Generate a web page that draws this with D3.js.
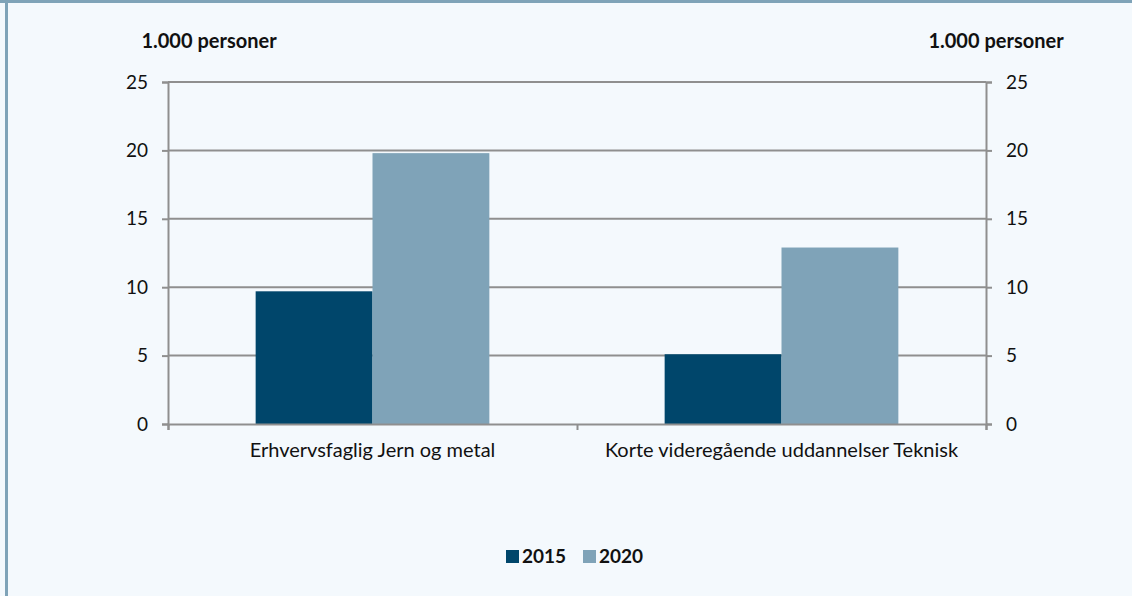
<!DOCTYPE html>
<html>
<head>
<meta charset="utf-8">
<script src="https://cdn.jsdelivr.net/npm/d3@7"></script>
<style>
  body { margin: 0; background: #f4f9fd; }
  svg { display: block; font-family: Lato, "Open Sans", sans-serif; }
  .tick text { fill: #111; font-size: 19px; font-family: Lato, "Open Sans", sans-serif; }
</style>
</head>
<body>
<div id="chart"></div>
<script>
// categories and series
var categories = ['Erhvervsfaglig Jern og metal', 'Korte videregående uddannelser Teknisk'];
var years = ['2015', '2020'];
var values2015 = [9.7, 5.1];
var values2020 = [19.8, 12.9];
var yTicks = [0, 5, 10, 15, 20, 25];
var unitLabel = '1.000 personer';

var colors = {'2015': '#00466b', '2020': '#7fa3b8'};

var W = 1132, H = 596;
var margin = {top: 82, right: 146, bottom: 172, left: 168};
var width = W - margin.left - margin.right;
var height = H - margin.top - margin.bottom;

var svg = d3.select('#chart').append('svg')
  .attr('width', W)
  .attr('height', H);

// frame: top and left stripe
svg.append('rect').attr('x', 0).attr('y', 0).attr('width', W).attr('height', 3).attr('fill', '#7fa3b8');
svg.append('rect').attr('x', 5).attr('y', 0).attr('width', 3).attr('height', H).attr('fill', '#7fa3b8');

var g = svg.append('g')
  .attr('transform', 'translate(' + margin.left + ',' + margin.top + ')');

var x0 = d3.scaleBand().domain(categories).range([0, width]).paddingInner(0).paddingOuter(0);
var x1 = d3.scaleBand().domain(years).range([0, x0.bandwidth()]).paddingInner(0).paddingOuter(0.75);
var y = d3.scaleLinear().domain([0, 25]).range([height, 0]);

// gridlines
g.append('g').selectAll('line')
  .data(yTicks.slice(1))
  .enter().append('line')
  .attr('x1', 0).attr('x2', width)
  .attr('y1', function(d) { return y(d); })
  .attr('y2', function(d) { return y(d); })
  .attr('stroke', '#8f8f8f')
  .attr('stroke-width', 2);

// bars
var rows = categories.map(function(c, i) {
  return {cat: c, vals: [{year: '2015', v: values2015[i]}, {year: '2020', v: values2020[i]}]};
});

var groups = g.selectAll('.grp')
  .data(rows)
  .enter().append('g')
  .attr('transform', function(d) { return 'translate(' + x0(d.cat) + ',0)'; });

groups.selectAll('rect')
  .data(function(d) { return d.vals; })
  .enter().append('rect')
  .attr('x', function(d) { return x1(d.year); })
  .attr('width', x1.bandwidth())
  .attr('y', function(d) { return y(d.v); })
  .attr('height', function(d) { return height - y(d.v); })
  .attr('fill', function(d) { return colors[d.year]; });

// axes
var yLeft = g.append('g')
  .call(d3.axisLeft(y).tickValues(yTicks).tickSize(6).tickPadding(14));
var yRight = g.append('g')
  .attr('transform', 'translate(' + width + ',0)')
  .call(d3.axisRight(y).tickValues(yTicks).tickSize(6).tickPadding(14));
var xAxis = g.append('g')
  .attr('transform', 'translate(0,' + height + ')')
  .call(d3.axisBottom(d3.scaleLinear().domain([0, 2]).range([0, width])).tickValues([0, 1, 2]).tickSize(6).tickFormat(''));

[yLeft, yRight, xAxis].forEach(function(a) {
  a.select('.domain').attr('stroke', '#8f8f8f').attr('stroke-width', 2);
  a.selectAll('.tick line').attr('stroke', '#8f8f8f').attr('stroke-width', 2);
});

// category labels
g.selectAll('.cat')
  .data(categories)
  .enter().append('text')
  .attr('x', function(d) { return x0(d) + x0.bandwidth() / 2; })
  .attr('y', height + 33)
  .attr('text-anchor', 'middle')
  .attr('font-size', 20)
  .attr('fill', '#111')
  .text(function(d) { return d; });

// unit labels
svg.append('text').attr('x', 209).attr('y', 48).attr('text-anchor', 'middle')
  .attr('font-size', 20).attr('font-weight', 'bold').attr('fill', '#111').text(unitLabel);
svg.append('text').attr('x', 996).attr('y', 48).attr('text-anchor', 'middle')
  .attr('font-size', 20).attr('font-weight', 'bold').attr('fill', '#111').text(unitLabel);

// legend
var legend = svg.append('g').attr('transform', 'translate(506,556)');
var legX = [0, 77];
years.forEach(function(yr, i) {
  legend.append('rect').attr('x', legX[i]).attr('y', -6).attr('width', 13).attr('height', 13).attr('fill', colors[yr]);
  legend.append('text').attr('x', legX[i] + 16).attr('y', 7)
    .attr('font-size', 19).attr('font-weight', 'bold').attr('fill', '#111').text(yr);
});
</script>
</body>
</html>
